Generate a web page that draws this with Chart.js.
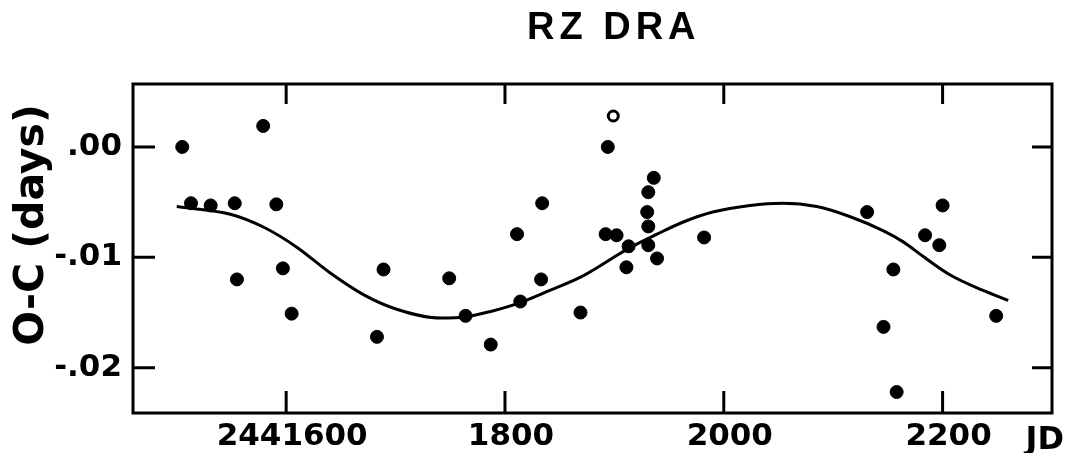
<!DOCTYPE html>
<html>
<head>
<meta charset="utf-8">
<script src="https://cdn.jsdelivr.net/npm/chart.js@4.4.1/dist/chart.umd.min.js"></script>
<style>
  body { margin: 0; background: #fff; }
</style>
</head>
<body>
<canvas id="chart" width="1066" height="453"></canvas>
<script>
// JD - 2440000 and O-C in days
const jdFilled = [1505, 1513, 1531, 1553, 1591, 1579, 1555, 1597, 1605, 1689, 1683, 1749,
  1764, 1787, 1814, 1811, 1833, 1834, 1869, 1894, 1892, 1902, 1913, 1911, 1936, 1931,
  1930, 1931, 1931, 1939, 1982, 2131, 2200, 2184, 2197, 2155, 2146, 2158, 2249];
const ocFilled = [0.0000, -0.0051, -0.0053, -0.0051, -0.0052, 0.0019, -0.0120, -0.0110, -0.0151, -0.0111, -0.0172, -0.0119,
  -0.0153, -0.0179, -0.0140, -0.0079, -0.0120, -0.0051, -0.0150, 0.0000, -0.0079, -0.0080, -0.0090, -0.0109, -0.0028, -0.0041,
  -0.0059, -0.0072, -0.0089, -0.0101, -0.0082, -0.0059, -0.0053, -0.0080, -0.0089, -0.0111, -0.0163, -0.0222, -0.0153];

const jdOpen = [1899];
const ocOpen = [0.0028];

// fitted curve
const jdCurve = [1500, 1549, 1580, 1610, 1640, 1671, 1701, 1741, 1764, 1787, 1814, 1841, 1869,
  1893, 1911, 1939, 1963, 1990, 2024, 2054, 2085, 2115, 2146, 2164, 2182, 2207, 2237, 2260];
const ocCurve = [-0.0054, -0.0061, -0.0073, -0.0091, -0.0114, -0.0134, -0.0147, -0.0155, -0.0154, -0.0149, -0.0141, -0.0130, -0.0118,
  -0.0104, -0.0093, -0.0079, -0.0068, -0.0059, -0.0053, -0.0051, -0.0054, -0.0063, -0.0076, -0.0086, -0.0099, -0.0116, -0.0130, -0.0139];

const xTicks = [1600, 1800, 2000, 2200];
const xTickLabels = ['2441600', '1800', '2000', '2200'];
const yTicks = [0, -0.01, -0.02];
const yTickLabels = ['.00', '-.01', '-.02'];

const toPoints = (xs, ys) => xs.map((x, i) => ({ x: x, y: ys[i] }));

// frame, inward ticks on all four sides, title texts
const framePlugin = {
  id: 'frame',
  afterDraw(chart) {
    const ctx = chart.ctx;
    const a = chart.chartArea;
    const xs = chart.scales.x, ys = chart.scales.y;
    ctx.save();
    ctx.strokeStyle = '#000';
    ctx.lineWidth = 3;
    ctx.strokeRect(a.left, a.top, a.right - a.left, a.bottom - a.top);
    ctx.beginPath();
    xTicks.forEach(v => {
      const px = xs.getPixelForValue(v);
      ctx.moveTo(px, a.bottom); ctx.lineTo(px, a.bottom - 22);
      ctx.moveTo(px, a.top); ctx.lineTo(px, a.top + 20);
    });
    yTicks.forEach(v => {
      const py = ys.getPixelForValue(v);
      ctx.moveTo(a.left, py); ctx.lineTo(a.left + 22, py);
      ctx.moveTo(a.right, py); ctx.lineTo(a.right - 20, py);
    });
    ctx.stroke();

    ctx.fillStyle = '#000';
    ctx.font = 'bold 38px "Liberation Sans"';
    ctx.letterSpacing = '5px';
    ctx.textAlign = 'left';
    ctx.textBaseline = 'alphabetic';
    ctx.fillText('RZ DRA', 527, 39);
    ctx.letterSpacing = '0px';

    ctx.font = 'bold 32px "DejaVu Sans"';
    ctx.textAlign = 'right';
    ctx.fillText('JD', 1064, 449);

    ctx.translate(32, 225);
    ctx.rotate(-Math.PI / 2);
    ctx.textAlign = 'center';
    ctx.textBaseline = 'middle';
    ctx.font = 'bold 41px "DejaVu Sans"';
    ctx.fillText('O-C (days)', 0, 0);
    ctx.restore();
  }
};

const tickFont = { family: 'DejaVu Sans', weight: 'bold', size: 31 };

new Chart(document.getElementById('chart'), {
  type: 'scatter',
  data: {
    datasets: [
      {
        type: 'line',
        data: toPoints(jdCurve, ocCurve),
        borderColor: '#000',
        borderWidth: 3,
        pointRadius: 0,
        cubicInterpolationMode: 'monotone',
        fill: false
      },
      {
        data: toPoints(jdFilled, ocFilled),
        backgroundColor: '#000',
        borderColor: '#000',
        borderWidth: 1,
        pointRadius: 6.5
      },
      {
        data: toPoints(jdOpen, ocOpen),
        backgroundColor: '#fff',
        borderColor: '#000',
        borderWidth: 3,
        pointRadius: 5
      }
    ]
  },
  options: {
    responsive: false,
    animation: false,
    layout: { padding: { left: 0, top: 84, right: 14, bottom: 0 } },
    plugins: { legend: { display: false }, tooltip: { enabled: false } },
    scales: {
      x: {
        type: 'linear',
        min: 1460,
        max: 2300,
        grid: { display: false, drawTicks: false },
        border: { display: false },
        afterBuildTicks: s => { s.ticks = xTicks.map(v => ({ value: v })); },
        afterFit: s => { s.height = 40; },
        ticks: {
          callback: (v, i) => xTickLabels[i],
          color: '#000',
          font: tickFont,
          padding: 5,
          labelOffset: 6,
          maxRotation: 0,
          autoSkip: false
        }
      },
      y: {
        type: 'linear',
        min: -0.0241,
        max: 0.0057,
        grid: { display: false, drawTicks: false },
        border: { display: false },
        afterBuildTicks: s => { s.ticks = yTicks.map(v => ({ value: v })); },
        afterFit: s => { s.width = 133; },
        ticks: {
          callback: (v, i) => yTickLabels[i],
          color: '#000',
          font: tickFont,
          padding: 11,
          autoSkip: false
        }
      }
    }
  },
  plugins: [framePlugin]
});
</script>
</body>
</html>
